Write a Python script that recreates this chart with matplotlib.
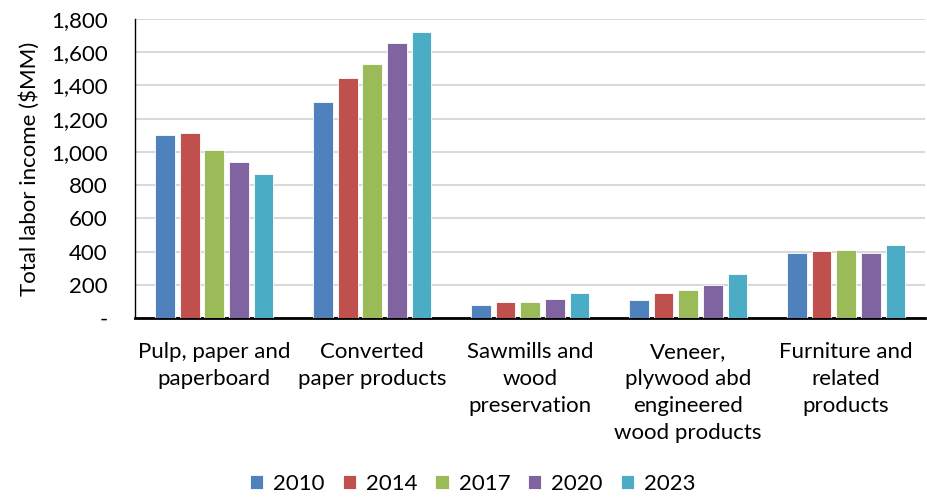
import matplotlib.pyplot as plt
import numpy as np
from matplotlib.ticker import FuncFormatter

categories = ['Pulp, paper and\npaperboard', 'Converted\npaper products',
              'Sawmills and\nwood\npreservation',
              'Veneer,\nplywood abd\nengineered\nwood products',
              'Furniture and\nrelated\nproducts']
years = ['2010', '2014', '2017', '2020', '2023']
v2010 = [1102, 1298, 80, 110, 393]
v2014 = [1114, 1445, 98, 152, 405]
v2017 = [1013, 1529, 96, 169, 411]
v2020 = [939, 1656, 114, 200, 389]
v2023 = [869, 1724, 150, 263, 441]
series = [v2010, v2014, v2017, v2020, v2023]
colors = ['#4F81BD', '#C0504D', '#9BBB59', '#8064A2', '#4BACC6']

plt.rcParams['font.family'] = ['Lato', 'DejaVu Sans']

fig = plt.figure(figsize=(9.27, 5.0), dpi=100)
ax = fig.add_axes([0.146, 0.364, 0.852, 0.598])

x = np.arange(len(categories))
pitch = 0.156
width = 0.125
for i, (vals, c) in enumerate(zip(series, colors)):
    ax.bar(x + (i - 2) * pitch, vals, width, color=c, label=years[i],
           edgecolor='white', linewidth=0.6, zorder=3)

ax.set_xlim(-0.5, len(categories) - 0.5)
ax.set_ylim(0, 1800)
ax.set_yticks(range(0, 1801, 200))
ax.yaxis.set_major_formatter(FuncFormatter(lambda v, p: '-' if v == 0 else f'{int(v):,}'))
ax.grid(axis='y', color='#D9D9D9', linewidth=1.5, zorder=0)
ax.set_axisbelow(True)

ax.set_xticks(x)
ax.set_xticklabels(categories, fontsize=16, linespacing=1.45)
ax.tick_params(axis='both', length=0, labelsize=16, colors='black')
ax.tick_params(axis='x', pad=17)
ax.tick_params(axis='y', pad=20)
ax.set_ylabel('Total labor income ($MM)', fontsize=16, labelpad=8)

for s in ['top', 'right']:
    ax.spines[s].set_visible(False)
ax.spines['left'].set_linewidth(1.0)
ax.spines['bottom'].set_linewidth(2.0)

fig.legend(loc='lower center', bbox_to_anchor=(0.51, -0.028), ncol=5, frameon=False,
           fontsize=16, handlelength=0.6, handleheight=0.6, columnspacing=0.8,
           handletextpad=0.45)

fig.savefig('out.png', dpi=100)
